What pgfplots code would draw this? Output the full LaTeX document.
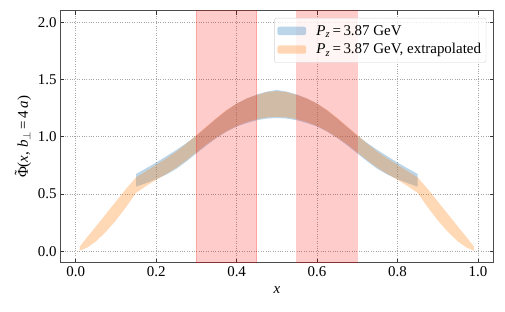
\documentclass[border=0pt]{standalone}
\usepackage{pgfplots}
\pgfplotsset{compat=1.18}
\usepackage{fontspec}
\setmainfont{Liberation Serif}
\definecolor{tabblue}{RGB}{31,119,180}
\definecolor{taborange}{RGB}{255,127,14}
\newcommand{\tPhi}{\ooalign{Φ\cr\hidewidth\raisebox{0.2em}{˜}\hidewidth\cr}}
\begin{document}
\begin{tikzpicture}
\begin{axis}[
  scale only axis,
  width=433.7bp, height=251.7bp,
  xmin=-0.039, xmax=1.039,
  ymin=-0.1, ymax=2.1,
  xtick={0,0.2,0.4,0.6,0.8,1.0},
  ytick={0,0.5,1.0,1.5,2.0},
  tick align=inside,
  major tick length=4bp,
  minor tick num=0,
  every tick/.style={black!80, line width=0.8bp},
  axis line style={black!70, line width=1bp},
  grid=major,
  grid style={dotted, gray!70, line width=0.7bp},
  /pgf/number format/.cd, fixed, fixed zerofill, precision=1, assume math mode=true,
  /pgfplots/.cd,
  ticklabel style={font=\fontsize{15}{17}\selectfont},
  xlabel={\textit{x}},
  ylabel={\tPhi(\textit{x}, \textit{b}\textsubscript{$\perp$}\,=\,4\,\textit{a})},
  label style={font=\fontsize{15}{17}\selectfont},
  xlabel style={yshift=-3bp},
  legend cell align=left,
  legend style={at={(1,1)}, anchor=north east, xshift=-7.5bp, yshift=-7bp,
    draw=gray!35, rounded corners=2bp, fill=white, fill opacity=0.8, text opacity=1,
    font=\fontsize{15}{17}\selectfont, inner xsep=3bp, inner ysep=5bp, row sep=3bp},
  legend image code/.code={\fill[#1] (0bp,-4.2bp) rectangle (28.7bp,4.2bp); \path (37bp,0bp);},
]
\addplot[fill=tabblue, fill opacity=0.3, draw=none] coordinates {
(0.15,0.675)(0.175,0.725)(0.2,0.775)(0.225,0.83)(0.25,0.885)(0.275,0.945)(0.3,1.01)(0.325,1.085)(0.35,1.16)(0.375,1.23)(0.4,1.29)(0.425,1.335)(0.45,1.37)(0.475,1.395)(0.5,1.41)(0.525,1.395)(0.55,1.37)(0.575,1.335)(0.6,1.29)(0.625,1.23)(0.65,1.16)(0.675,1.085)(0.7,1.01)(0.725,0.945)(0.75,0.885)(0.775,0.83)(0.8,0.775)(0.825,0.725)(0.85,0.675)
(0.85,0.565)(0.825,0.595)(0.8,0.63)(0.775,0.67)(0.75,0.72)(0.725,0.785)(0.7,0.855)(0.675,0.925)(0.65,0.99)(0.625,1.045)(0.6,1.09)(0.575,1.12)(0.55,1.145)(0.525,1.16)(0.5,1.165)(0.475,1.16)(0.45,1.145)(0.425,1.12)(0.4,1.09)(0.375,1.045)(0.35,0.99)(0.325,0.925)(0.3,0.855)(0.275,0.785)(0.25,0.72)(0.225,0.67)(0.2,0.63)(0.175,0.595)(0.15,0.565)
} -- cycle;
\addlegendentry{\textit{P}\textsubscript{\textit{z}}\,=\,3.87 GeV}
\addplot[fill=taborange, fill opacity=0.3, draw=none] coordinates {
(0.01,0.04)(0.03,0.13)(0.05,0.215)(0.075,0.325)(0.10,0.435)(0.125,0.545)(0.15,0.645)(0.175,0.70)(0.2,0.755)(0.225,0.81)(0.25,0.87)(0.275,0.94)(0.3,1.015)(0.325,1.09)(0.35,1.165)(0.375,1.235)(0.4,1.29)(0.425,1.335)(0.45,1.365)(0.475,1.39)(0.5,1.40)
(0.525,1.39)(0.55,1.365)(0.575,1.335)(0.6,1.29)(0.625,1.235)(0.65,1.165)(0.675,1.09)(0.7,1.015)(0.725,0.94)(0.75,0.87)(0.775,0.81)(0.8,0.755)(0.825,0.70)(0.85,0.645)(0.875,0.545)(0.9,0.435)(0.925,0.325)(0.95,0.215)(0.97,0.13)(0.99,0.04)
(0.99,0.005)(0.97,0.035)(0.95,0.085)(0.925,0.17)(0.9,0.27)(0.875,0.385)(0.85,0.51)(0.825,0.57)(0.8,0.625)(0.775,0.675)(0.75,0.73)(0.725,0.795)(0.7,0.865)(0.675,0.935)(0.65,0.995)(0.625,1.05)(0.6,1.095)(0.575,1.13)(0.55,1.155)(0.525,1.17)(0.5,1.175)
(0.475,1.17)(0.45,1.155)(0.425,1.13)(0.4,1.095)(0.375,1.05)(0.35,0.995)(0.325,0.935)(0.3,0.865)(0.275,0.795)(0.25,0.73)(0.225,0.675)(0.2,0.625)(0.175,0.57)(0.15,0.51)(0.125,0.385)(0.1,0.27)(0.075,0.17)(0.05,0.085)(0.03,0.035)(0.01,0.005)
} -- cycle;
\addlegendentry{\textit{P}\textsubscript{\textit{z}}\,=\,3.87 GeV, extrapolated}
\addplot[forget plot, fill=red, fill opacity=0.2, draw=red, draw opacity=0.2, line width=1bp] coordinates {(0.3,-0.1)(0.45,-0.1)(0.45,2.1)(0.3,2.1)} -- cycle;
\addplot[forget plot, fill=red, fill opacity=0.2, draw=red, draw opacity=0.2, line width=1bp] coordinates {(0.55,-0.1)(0.7,-0.1)(0.7,2.1)(0.55,2.1)} -- cycle;
\end{axis}
\pgfresetboundingbox
\path ([xshift=-60bp,yshift=-49.3bp]current axis.south west) rectangle ([xshift=11.3bp,yshift=11bp]current axis.north east);
\end{tikzpicture}
\end{document}
